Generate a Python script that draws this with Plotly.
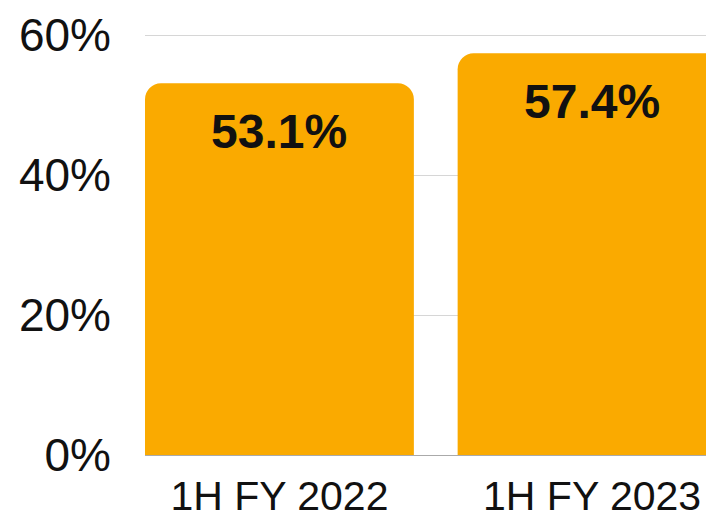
import plotly.graph_objects as go

# values
periods = ["1H FY 2022", "1H FY 2023"]
shares = [53.1, 57.4]
y_ticks = [0, 20, 40, 60]
y_tick_text = ["0%", "20%", "40%", "60%"]

BAR_COLOR = "#FAAA00"
FONT = "Liberation Sans, Arial, sans-serif"

fig = go.Figure()
fig.add_trace(go.Bar(
    x=periods,
    y=shares,
    marker=dict(color=BAR_COLOR, line=dict(width=0), cornerradius=16),
    hoverinfo="skip",
    showlegend=False,
))

# value labels sit a little below the top of each bar
for p, v in zip(periods, shares):
    fig.add_annotation(
        x=p, y=v, text=f"{v:.1f}%",
        showarrow=False, yanchor="middle", yshift=-48,
        font=dict(family=FONT, size=48, color="#111111", weight="bold"),
    )

# the page body adds an 8px margin, so the figure is sized to fit inside it
fig.update_layout(
    width=706,
    height=511,
    margin=dict(l=137, r=0, t=20, b=60),
    paper_bgcolor="white",
    plot_bgcolor="white",
    bargap=0.14,
    font=dict(family=FONT, color="#111111"),
    xaxis=dict(
        type="category",
        range=[-0.43, 1.39],
        showgrid=False,
        showline=False,
        ticks="",
        ticklabelstandoff=13,
        tickfont=dict(size=41, color="#111111"),
    ),
    yaxis=dict(
        range=[0, 61],
        tickvals=y_ticks,
        ticktext=y_tick_text,
        showgrid=True,
        gridcolor="#D6D6D6",
        gridwidth=1,
        zeroline=True,
        zerolinecolor="#AAAAAA",
        zerolinewidth=1,
        showline=False,
        ticks="",
        ticklabelstandoff=33,
        tickfont=dict(size=46, color="#111111"),
    ),
)

fig.write_html("out.html")
